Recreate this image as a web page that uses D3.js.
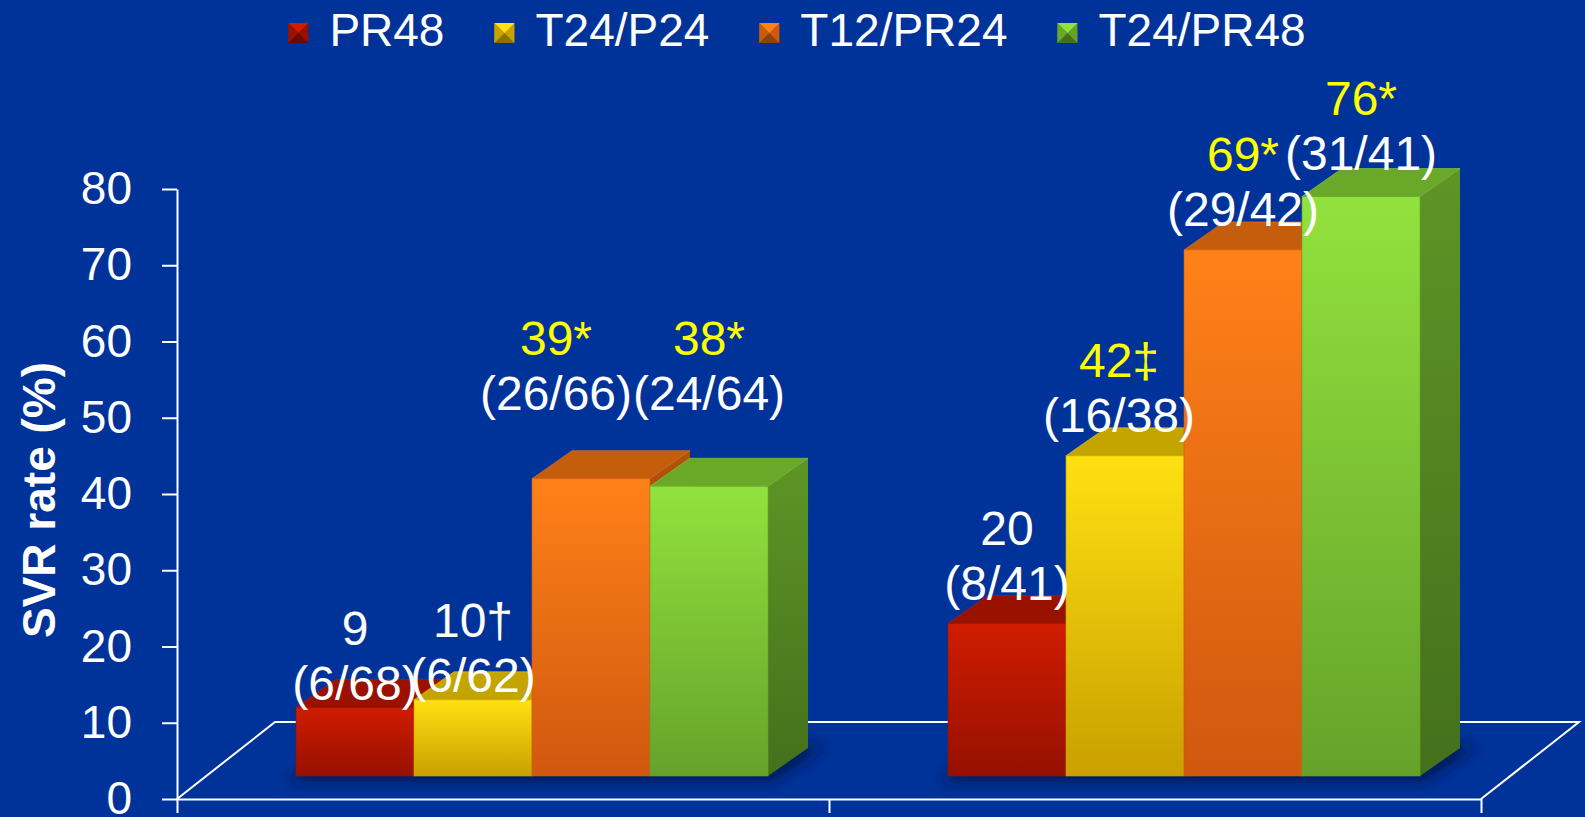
<!DOCTYPE html>
<html>
<head>
<meta charset="utf-8">
<script src="https://cdn.jsdelivr.net/npm/d3@7"></script>
<style>
body { margin: 0; background: #003399; overflow: hidden; }
svg { display: block; }
text { font-family: Arial, "Liberation Sans", sans-serif; }
</style>
</head>
<body>
<div class="cont"></div>
<script>

var w = 1585,
h = 817;

// data
var groups = ["Group 1", "Group 2"];
var series = ["PR48", "T24/P24", "T12/PR24", "T24/PR48"];
var svr = [[9, 10, 39, 38], [20, 42, 69, 76]];
var valueText = [["9", "10\u2020", "39*", "38*"], ["20", "42\u2021", "69*", "76*"]];
var fracText = [["(6/68)", "(6/62)", "(26/66)", "(24/64)"], ["(8/41)", "(16/38)", "(29/42)", "(31/41)"]];
var yTicks = [0, 10, 20, 30, 40, 50, 60, 70, 80];

// label nudges (dx, dy), the slide had hand placed labels
var labelShift = [[[0, 17], [0, 16], [-35, -45], [0, -52]], [[0, 0], [-6, 0], [0, 0], [0, -3]]];

// colours: front top, front bottom, top face, side top, side bottom
var pal = [
["#d01c00", "#961000", "#9a1100", "#8a0e00", "#6a0a00"],
["#ffe012", "#c9a000", "#c4a500", "#b09200", "#8a7200"],
["#ff8118", "#d0580f", "#c45e0c", "#b0520a", "#8c4208"],
["#92e23e", "#66a22a", "#6aa82a", "#5e9526", "#44701c"]];


// fake 3d
var floorDx = 98, floorDy = 77;
var offX = 29, offY = 23;
var depX = 40, depY = 28;

var svg = d3.select(".cont").append("svg").
attr("width", w).
attr("height", h);

var defs = svg.append("defs");
defs.append("filter").attr("id", "blur").
attr("x", "-20%").attr("y", "-50%").attr("width", "140%").attr("height", "200%").
append("feGaussianBlur").attr("stdDeviation", 7);

pal.forEach(function (c, i) {
  var gf = defs.append("linearGradient").attr("id", "front" + i).
  attr("x1", 0).attr("y1", 0).attr("x2", 0).attr("y2", 1);
  gf.append("stop").attr("offset", "0%").attr("stop-color", c[0]);
  gf.append("stop").attr("offset", "100%").attr("stop-color", c[1]);
  var gs = defs.append("linearGradient").attr("id", "side" + i).
  attr("x1", 0).attr("y1", 0).attr("x2", 0).attr("y2", 1);
  gs.append("stop").attr("offset", "0%").attr("stop-color", c[3]);
  gs.append("stop").attr("offset", "100%").attr("stop-color", c[4]);
});

svg.append("rect").attr("width", w).attr("height", h).attr("fill", "#003399");

var x0 = d3.scaleBand().
domain(groups).
range([177, 1481]).
paddingInner(0.276).
paddingOuter(0.138);

var x1 = d3.scaleBand().
domain(series).
range([0, x0.bandwidth()]);

var y = d3.scaleLinear().
domain([0, 80]).
range([799, 189]);

// floor
var fx0 = x0.range()[0], fx1 = x0.range()[1], fy = y(0);
var floor = svg.append("g").attr("stroke", "#fff").attr("stroke-width", 2).attr("fill", "none");
floor.append("path").attr("d", "M" + fx0 + "," + fy + "L" + (fx0 + floorDx) + "," + (fy - floorDy) +
"H" + (fx1 + floorDx) + "L" + fx1 + "," + fy);

// shadows under each cluster
svg.append("g").selectAll("path").
data(groups).
enter().append("path").
attr("fill", "#00134d").
attr("opacity", 0.85).
attr("filter", "url(#blur)").
attr("d", function (g) {
  var l = x0(g) + offX - 8, r = x0(g) + x0.bandwidth() + offX + 4, b = y(0) - offY + 6;
  return "M" + l + "," + b + "H" + r + "L" + (r + depX + 14) + "," + (b - depY - 8) +
  "H" + (l + depX) + "Z";
});

// bars
var bars = [];
groups.forEach(function (g, gi) {
  series.forEach(function (s, si) {
    bars.push({ g: g, gi: gi, s: s, si: si, v: svr[gi][si] });
  });
});

var bar = svg.append("g").selectAll("g").
data(bars).
enter().append("g");

function geo(d) {
  var l = x0(d.g) + x1(d.s) + offX;
  return { l: l, r: l + x1.bandwidth(), t: y(d.v) - offY, b: y(0) - offY };
}

bar.append("path").
attr("fill", function (d) {return "url(#side" + d.si + ")";}).
attr("d", function (d) {
  var q = geo(d);
  return "M" + q.r + "," + q.t + "L" + (q.r + depX) + "," + (q.t - depY) +
  "V" + (q.b - depY) + "L" + q.r + "," + q.b + "Z";
});

bar.append("path").
attr("fill", function (d) {return pal[d.si][2];}).
attr("stroke", function (d) {return pal[d.si][0];}).
attr("stroke-opacity", 0.5).
attr("stroke-width", 1).
attr("d", function (d) {
  var q = geo(d);
  return "M" + q.l + "," + q.t + "L" + (q.l + depX) + "," + (q.t - depY) +
  "H" + (q.r + depX) + "L" + q.r + "," + q.t + "Z";
});

bar.append("rect").
attr("x", function (d) {return geo(d).l;}).
attr("y", function (d) {return geo(d).t;}).
attr("width", x1.bandwidth()).
attr("height", function (d) {var q = geo(d);return q.b - q.t;}).
attr("fill", function (d) {return "url(#front" + d.si + ")";}).
attr("stroke", function (d) {return pal[d.si][1];}).
attr("stroke-opacity", 0.6).
attr("stroke-width", 1);

// y axis
var yAxis = d3.axisLeft(y).
tickValues(yTicks).
tickSize(15).
tickSizeOuter(0).
tickPadding(30);

var ya = svg.append("g").
attr("transform", "translate(177,0)").
call(yAxis);
ya.select(".domain").attr("stroke", "#fff").attr("stroke-width", 2);
ya.selectAll(".tick line").attr("stroke", "#fff").attr("stroke-width", 2);
ya.selectAll(".tick text").
attr("fill", "#fff").
attr("font-size", 46).
attr("font-family", "Arial, 'Liberation Sans', sans-serif");

// category axis, ticks on the band edges
var xb = d3.scaleLinear().domain([0, groups.length]).range(x0.range());
var xa = svg.append("g").
attr("transform", "translate(0," + y(0) + ")").
call(d3.axisBottom(xb).tickValues(d3.range(groups.length + 1)).tickFormat("").tickSize(14).tickSizeOuter(0));
xa.select(".domain").attr("stroke", "#fff").attr("stroke-width", 2);
xa.selectAll(".tick line").attr("stroke", "#fff").attr("stroke-width", 2);

// y title
svg.append("text").
attr("transform", "translate(55,500) rotate(-90)").
attr("text-anchor", "middle").
attr("fill", "#fff").
attr("font-weight", "bold").
attr("font-size", 46).
text("SVR rate (%)");

// bar labels
var lab = svg.append("g").attr("text-anchor", "middle").attr("font-size", 48);
bars.forEach(function (d) {
  var q = geo(d);
  var sh = labelShift[d.gi][d.si];
  var cx = (q.l + q.r) / 2 + sh[0];
  var by = q.t - 24 + sh[1];
  var vt = valueText[d.gi][d.si];
  lab.append("text").
  attr("x", cx).attr("y", by - 55).
  attr("fill", /[*\u2021]/.test(vt) ? "#ffff00" : "#fff").
  text(vt);
  lab.append("text").
  attr("x", cx).attr("y", by).
  attr("fill", "#fff").
  text(fracText[d.gi][d.si]);
});

// legend
var leg = svg.append("g").attr("id", "legend");
var lx = 0;
series.forEach(function (s, i) {
  var it = leg.append("g").attr("transform", "translate(" + lx + ",0)");
  var c = pal[i];
  var k = 20, ky = 23;
  it.append("path").attr("fill", c[1]).attr("d", "M0," + ky + "h" + k + "v" + k + "h" + -k + "Z");
  it.append("path").attr("fill", c[0]).attr("d", "M0," + ky + "h" + k + "l" + -k / 2 + "," + k / 2 + "Z");
  it.append("path").attr("fill", c[2]).attr("d", "M0," + ky + "l" + k / 2 + "," + k / 2 + "L0," + (ky + k) + "Z");
  it.append("path").attr("fill", c[4]).attr("d", "M0," + (ky + k) + "h" + k + "l" + -k / 2 + "," + -k / 2 + "Z");
  var t = it.append("text").
  attr("x", k + 21).
  attr("y", 46).
  attr("fill", "#fff").
  attr("font-size", 46).
  text(s);
  lx += k + 21 + t.node().getComputedTextLength() + 50;
});
lx -= 50;
leg.attr("transform", "translate(" + (797 - lx / 2) + ",0)");

</script>
</body>
</html>
